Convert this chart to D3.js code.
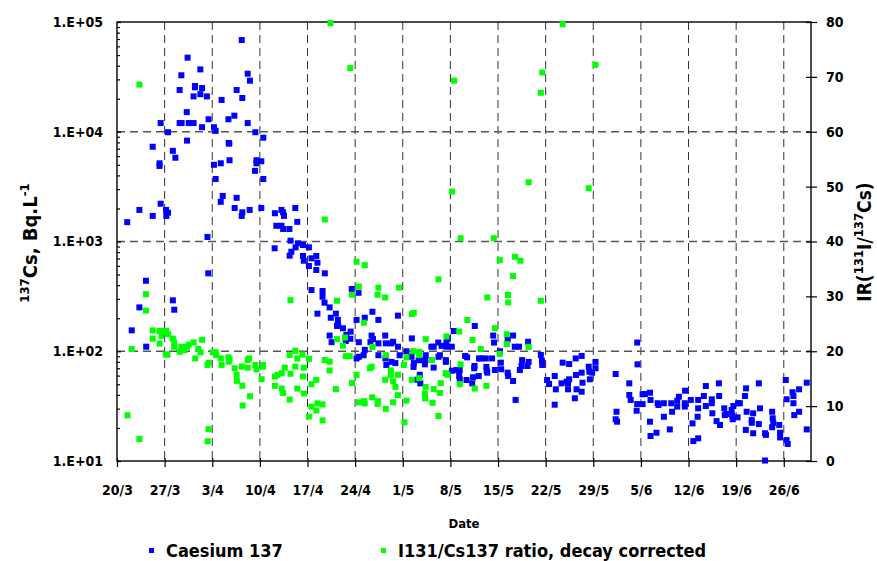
<!DOCTYPE html>
<html>
<head>
<meta charset="utf-8">
<script src="https://cdn.jsdelivr.net/npm/d3@7"></script>
<style>
body { margin: 0; background: #fff; }
svg { display: block; font-family: "DejaVu Sans Condensed", "DejaVu Sans", sans-serif; font-weight: bold; }
</style>
</head>
<body>
<svg id="chart"></svg>
<script>
// [days after 20/3/2011, 137Cs activity in Bq/L]
const caesium = [
  [1.51,1500],[2.15,155],[3.28,1940],[3.28,251],[4.25,439],[4.31,110],[5.24,1710],[5.24,7300],[6.26,5160],[6.26,4880],
  [6.41,12000],[6.41,2210],[7.19,1940],[7.25,1710],[7.49,1830],[7.49,9900],[8.22,291],[8.43,239],[8.22,6700],[8.57,5800],
  [9.21,24000],[9.46,32700],[9.21,12000],[9.5,12000],[10.38,47300],[10.24,15100],[10.28,8300],[10.53,12000],[11.26,12000],[11.46,26100],
  [11.46,25400],[11.26,21000],[12.25,37000],[12.49,25000],[12.25,22000],[12.49,11000],[13.22,21000],[13.47,13000],[13.28,1100],[13.43,513],
  [14.25,11000],[14.5,10200],[14.25,5000],[14.5,3710],[15.24,5160],[15.38,19500],[15.53,2600],[15.24,2300],[16.41,7900],[16.51,7780],
  [16.37,13000],[16.56,5500],[17.25,14000],[17.59,24000],[17.59,2500],[17.29,2020],[18.43,20300],[18.32,68500],[18.43,1845],[18.32,1710],
  [19.21,33800],[19.54,29200],[19.21,12000],[19.5,1940],[20.34,9900],[20.28,4400],[20.49,5500],[20.49,5160],[21.22,5380],[21.51,8830],
  [21.51,3710],[21.22,2020],[23.18,867],[23.22,1810],[23.43,1390],[24.16,1940],[24.4,1845],[24.54,1710],[24.16,1390],[24.4,1300],
  [25.34,1300],[26.22,2020],[26.51,1510],[25.49,1017],[25.38,743],[25.63,807],[26.26,885],[26.6,963],[27.34,929],[28.22,885],
  [27.34,738],[27.44,668],[28.22,598],[28.57,703],[29.31,738],[29.46,641],[29.31,550],[30.53,513],[28.57,361],[30.19,354],
  [30.19,314],[30.49,277],[31.26,251],[29.46,220],[32.15,220],[32.44,193],[31.41,202],[32.49,173],[32.34,170],[33.22,162],
  [34.5,369],[35.49,341],[35.19,193],[36.41,202],[37.54,229],[38.43,193],[41.31,211],[34.35,151],[33.72,141],[33.62,124],
  [31.26,139],[31.56,121],[34.31,130],[35.53,121],[37.4,139],[37.25,121],[37.63,129],[38.43,118],[39.4,139],[39.5,118],
  [40.57,122],[40.28,118],[41.31,110],[43.32,131],[36.41,103],[35.53,89],[35.19,86],[36.26,92],[38.43,92],[39.46,86],
  [39.6,75],[40.34,80],[40.93,78],[41.56,92],[42.54,100],[43.28,89],[44.5,83],[43.62,78],[43.57,72],[45.38,92],
  [45.34,83],[45.24,76],[46.56,71],[44.35,83],[44.5,61],[44.1,55],[44.6,51],[46.22,110],[46.56,110],[47.44,92],
  [47.69,112],[47.19,120],[48.43,120],[48.43,110],[49.21,110],[49.5,153],[48.57,131],[47.25,89],[48.32,83],[48.32,80],
  [49.21,66.5],[49.9,67.5],[50.38,67.5],[50.28,59.5],[50.38,55.5],[51.37,54.7],[52.34,58],[52.19,51],[53.18,59.5],[51.16,90.6],
  [51.46,88],[52.54,73.4],[52.49,70],[53.22,86],[53.57,86],[54.21,86],[54.31,72],[54.35,66.5],[52.59,170],[55.28,139],
  [55.43,120],[56.31,100],[56.41,78.7],[55.53,67.5],[56.46,68.5],[57.4,63.8],[57.49,59.5],[58.22,53.6],[58.57,36],[55.13,86],
  [54.4,63.8],[58.22,139],[57.4,128],[58.47,110],[59.1,110],[59.54,83],[60.49,80],[59.46,73.4],[60.34,73.4],[59.21,67.5],
  [62.29,92.5],[62.49,75],[62.44,82],[63.22,54.7],[63.51,50.3],[64.35,59.5],[64.5,45],[64.35,32.6],[60.43,122],
  [65.49,78.7],[66.46,76.5],[67.4,86],[68.28,90.6],[65.34,51],[66.07,52.8],[66.31,51],[66.46,55.5],[66.31,45],[67.44,60.8],
  [67.54,45],[67.29,37.3],[68.28,42.8],[68.43,51.7],[68.28,63.8],[69.35,72.3],[69.4,65.1],[69.5,55.5],[70.34,80],[70.34,70],
  [69.84,63.8],[73.28,62],[73.43,28.1],[73.51,22.8],[73.28,24],[75.28,51],[75.28,39.9],[75.49,36],[76.46,120],[76.51,76],
  [76.46,33],[76.37,28.7],[77.25,33],[77.25,40.5],[77.59,40.8],[78.32,41.9],[78.43,36],[78.32,22.8],[78.43,16.9],[79.31,18.1],
  [79.46,33.6],[79.6,32.4],[80.38,33.6],[80.38,25.3],[81.26,19.4],[81.46,33.6],[81.6,28.1],[82.34,35.4],[82.34,31.3],[82.59,38.5],
  [83.47,33.6],[83.47,31.3],[83.51,43.7],[84.35,36],[84.6,22],[84.69,15.2],[85.43,16.1],[85.34,25.3],[85.43,30.2],[85.43,36],
  [86.26,39.1],[86.56,48.2],[86.56,31.7],[87.4,36.5],[87.4,33.6],[87.49,27.2],[88.13,23.1],[88.47,51],[88.51,39.1],[88.62,21.3],
  [89.25,30.2],[89.35,26.2],[89.6,26.8],[90.34,29.2],[90.43,25.9],[90.49,24],[90.57,31.7],[91.31,33.6],[91.56,33.6],[91.22,25],
  [92.29,39.1],[92.44,45.9],[92.54,28.1],[92.4,19.2],[93.28,23.6],[93.28,22.3],[93.51,27.2],[93.51,17.9],[94.35,51],[94.5,30.2],
  [94.35,21.7],[95.24,17.9],[95.38,17.3],[95.24,10.1],[96.31,28.1],[96.37,24.5],[96.31,20.3],[96.46,22.3],[97.34,21.3],[97.44,18.1],
  [97.44,16.4],[98.28,54.7],[98.43,36.5],[98.43,15.5],[98.57,14.3],[99.31,42.3],[99.4,39.1],[99.4,33.6],[99.54,26.2],[100.24,45],
  [100.24,28.1],[101.37,51.7],[101.37,19.4]
];

// [days after 20/3/2011, I131/Cs137 ratio, decay corrected]
const ratio = [
  [1.56,8.33],[2.15,20.4],[3.28,68.6],[3.28,4.0],[4.25,30.4],[4.25,27.4],[5.24,23.8],[5.24,22.3],[6.26,21.4],[6.26,23.7],
  [6.56,22.8],[6.85,23.7],[7.25,23.7],[7.4,19.4],[7.15,19.4],[7.49,23.1],[8.22,22.3],[8.43,21.6],[8.43,20.8],[9.21,19.9],
  [9.46,20.8],[9.9,20.2],[10.28,20.8],[10.53,21.2],[11.26,21.6],[11.51,18.7],[11.96,20.4],[12.29,19.8],[12.49,22.1],[13.28,17.5],
  [13.51,17.9],[13.47,5.8],[13.32,3.6],[14.1,19.8],[14.5,19.8],[14.6,19.3],[15.24,18.7],[15.38,17.5],[16.37,18.9],[16.41,18.1],
  [16.56,18.6],[17.29,16.9],[17.59,15.7],[17.63,14.6],[18.32,17.2],[18.43,13.7],[18.47,10.1],[19.21,18.4],[19.4,18.7],[19.54,11.8],
  [19.21,17.0],[20.34,17.5],[20.49,16.7],[21.46,17.5],[21.46,17.2],[21.26,14.9],[23.22,13.7],[23.22,15.4],[23.57,15.7],[24.21,16.0],
  [24.65,17.0],[24.21,13.2],[24.4,12.4],[25.38,11.2],[25.38,19.3],[25.49,15.9],[26.22,20.1],[26.51,18.7],[26.22,17.2],[26.51,13.2],
  [25.49,29.3],[27.25,19.4],[28.22,18.6],[27.44,17.0],[27.34,15.4],[27.44,12.3],[28.57,14.0],[29.31,14.8],[28.22,8.1],[28.57,9.9],
  [29.31,9.2],[29.46,10.5],[30.19,10.3],[30.19,7.4],[30.53,18.4],[31.26,18.1],[31.26,16.5],[32.15,13.1],[32.34,29.2],[32.34,22.2],
  [33.22,21.0],[33.51,22.5],[33.62,19.1],[34.21,19.1],[30.53,44.0],[31.37,79.8],[34.31,71.6],[35.19,36.3],[36.41,35.7],[35.53,31.8],
  [34.54,30.3],[36.31,25.2],[35.19,15.7],[34.54,14.2],[35.53,10.7],[36.31,10.9],[36.41,10.5],[37.49,11.6],[38.37,10.9],[38.28,10.4],
  [37.4,17.2],[37.15,16.9],[37.54,20.8],[38.43,31.6],[38.28,30.3],[39.4,29.8],[41.46,31.6],[39.5,19.3],[39.4,14.8],[40.24,16.5],
  [40.24,15.7],[41.31,15.7],[40.57,14.5],[40.93,13.5],[41.31,12.0],[40.57,10.7],[39.5,9.5],[42.54,18.9],[42.15,17.5],[42.54,11.0],
  [42.25,7.05],[43.32,26.8],[43.62,27.0],[43.51,20.0],[44.4,19.9],[44.4,19.3],[43.32,14.8],[44.4,15.1],[45.38,22.2],[46.31,18.4],
  [45.38,13.5],[45.24,12.3],[45.28,11.4],[46.56,13.1],[47.44,12.4],[47.59,14.2],[46.37,10.6],[47.25,8.2],[47.25,33.1],[48.43,22.7],
  [48.28,16.0],[48.57,15.7],[50.28,23.6],[50.49,17.6],[50.38,14.0],[51.51,25.7],[52.25,22.05],[52.59,13.2],[53.47,20.4],[54.31,13.7],
  [54.4,29.8],[55.53,24.2],[56.26,36.6],[56.26,19.5],[57.29,23.1],[57.29,21.3],[57.44,30.25],[57.49,28.9],[58.22,33.7],[58.51,37.2],
  [59.31,36.5],[60.49,20.8],[62.29,29.2],[49.25,49.1],[49.54,69.3],[50.49,40.6],[55.38,40.6],[60.49,50.8],[62.49,70.8],[62.29,67.1],
  [65.49,79.6],[70.34,72.2],[69.35,49.7]
];

const dateLabels = ["20/3","27/3","3/4","10/4","17/4","24/4","1/5","8/5","15/5","22/5","29/5","5/6","12/6","19/6","26/6"];
const leftTicks = [10, 100, 1000, 10000, 100000];
const leftLabels = ["1.E+01","1.E+02","1.E+03","1.E+04","1.E+05"];
const rightTicks = [0, 10, 20, 30, 40, 50, 60, 70, 80];
const seriesNames = ["Caesium 137", "I131/Cs137 ratio, decay corrected"];
const seriesColors = ["#0000ff", "#00ff00"];

const width = 877, height = 561;
const plotL = 117, plotR = 811, plotT = 22, plotB = 461;

const svg = d3.select("#chart").attr("width", width).attr("height", height);

const start = new Date(2011, 2, 20);
const toDate = d => d3.timeHour.offset(start, Math.round(d * 24));

const x = d3.scaleTime().domain([start, new Date(2011, 5, 30)]).range([plotL, plotR]);
const yLeft = d3.scaleLog().domain([10, 100000]).range([plotB, plotT]);
const yRight = d3.scaleLinear().domain([0, 80]).range([plotB, plotT]);

const weeks = dateLabels.map((s, i) => d3.timeDay.offset(start, 7 * i));

// dashed grid
const grid = svg.append("g").attr("stroke", "#333").attr("stroke-width", 1).attr("stroke-dasharray", "8,5");
grid.selectAll("line.v").data(weeks.slice(1)).enter().append("line")
    .attr("x1", d => x(d)).attr("x2", d => x(d))
    .attr("y1", plotT).attr("y2", plotB);
grid.selectAll("line.h").data(leftTicks.slice(1, -1)).enter().append("line")
    .attr("x1", plotL).attr("x2", plotR)
    .attr("y1", d => yLeft(d)).attr("y2", d => yLeft(d))
    .attr("stroke", "#555").attr("stroke-width", 1.3);

// axes
const xAxis = svg.append("g").attr("transform", `translate(0,${plotB})`)
    .call(d3.axisBottom(x).tickValues(weeks).tickFormat((d, i) => dateLabels[i]).tickSize(6).tickPadding(18));
xAxis.selectAll(".tick line").attr("y1", -3);

const minor = [];
[10, 100, 1000, 10000].forEach(p => { for (let k = 2; k <= 9; k++) minor.push(p * k); });
const yMinor = svg.append("g").attr("transform", `translate(${plotL},0)`)
    .call(d3.axisLeft(yLeft).tickValues(minor).tickFormat("").tickSize(4));
yMinor.selectAll(".tick line").attr("x2", 3);

const yAxis = svg.append("g").attr("transform", `translate(${plotL},0)`)
    .call(d3.axisLeft(yLeft).tickValues(leftTicks).tickFormat((d, i) => leftLabels[i]).tickSize(6).tickPadding(8));
yAxis.selectAll(".tick line").attr("x2", 4);

const y2Axis = svg.append("g").attr("transform", `translate(${plotR},0)`)
    .call(d3.axisRight(yRight).tickValues(rightTicks).tickSize(6).tickPadding(9));
y2Axis.selectAll(".tick line").attr("x2", 6).attr("x1", -5);

svg.selectAll(".domain").remove();
svg.selectAll(".tick line").attr("stroke", "#000").attr("stroke-width", 1.2);
svg.selectAll(".tick text").attr("font-size", 14).attr("font-weight", "bold").attr("fill", "#000");
svg.selectAll("g").attr("font-family", null);

// frame
svg.append("rect").attr("x", plotL).attr("y", plotT).attr("width", plotR - plotL).attr("height", plotB - plotT)
    .attr("fill", "none").attr("stroke", "#000").attr("stroke-width", 1.4);

// points
const s = 6;
svg.append("g").selectAll("rect").data(caesium).enter().append("rect")
    .attr("x", d => x(toDate(d[0])) - s / 2).attr("y", d => yLeft(d[1]) - s / 2)
    .attr("width", s).attr("height", s).attr("fill", seriesColors[0]);
svg.append("g").selectAll("rect").data(ratio).enter().append("rect")
    .attr("x", d => x(toDate(d[0])) - s / 2).attr("y", d => yRight(d[1]) - s / 2)
    .attr("width", s).attr("height", s).attr("fill", seriesColors[1]);

// axis titles
svg.append("text").attr("x", (plotL + plotR) / 2).attr("y", 528)
    .attr("text-anchor", "middle").attr("font-size", 13).text("Date");

const lt = svg.append("text").attr("transform", "translate(37,243) rotate(-90)")
    .attr("text-anchor", "middle").attr("font-size", 20);
lt.append("tspan").attr("font-size", 13).attr("dy", -8).text("137");
lt.append("tspan").attr("dy", 8).text("Cs,  Bq.L");
lt.append("tspan").attr("font-size", 13).attr("dy", -8).text("-1");

const rt = svg.append("text").attr("transform", "translate(871,242) rotate(-90)")
    .attr("text-anchor", "middle").attr("font-size", 19);
rt.append("tspan").text("IR(");
rt.append("tspan").attr("font-size", 13).attr("dy", -8).text("131");
rt.append("tspan").attr("dy", 8).text("I/");
rt.append("tspan").attr("font-size", 13).attr("dy", -8).text("137");
rt.append("tspan").attr("dy", 8).text("Cs)");

// legend
const legendX = [149, 381];
const legend = svg.append("g").selectAll("g").data(seriesNames).enter().append("g")
    .attr("transform", (d, i) => `translate(${legendX[i]},557)`);
legend.append("rect").attr("x", 0).attr("y", -9).attr("width", 5).attr("height", 5)
    .attr("fill", (d, i) => seriesColors[i]);
legend.append("text").attr("x", 17).attr("y", 0).attr("font-size", 18).text(d => d);
</script>
</body>
</html>
